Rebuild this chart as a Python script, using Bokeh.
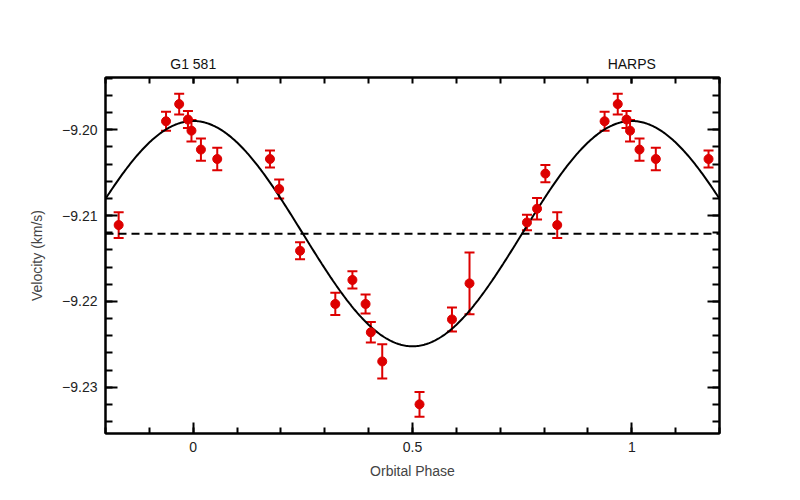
import numpy as np
from bokeh.plotting import figure
from bokeh.models import (ColumnDataSource, Range1d, LinearAxis, FixedTicker,
                          Whisker, TeeHead, CustomJSTickFormatter)
from bokeh.embed import file_html
from bokeh.resources import INLINE

# ---- data ----
phase = [0.0176, 0.0548, 0.175, 0.196, 0.2436, 0.324, 0.363, 0.393, 0.405,
         0.431, 0.516, 0.590, 0.630, 0.761, 0.784, 0.803, 0.830, 0.938,
         0.968, 0.988, 0.996]
velocity = [-9.2023, -9.2034, -9.2034, -9.2069, -9.2141, -9.2203, -9.2175,
            -9.2203, -9.2236, -9.2270, -9.2320, -9.2221, -9.2179, -9.2108,
            -9.2092, -9.2051, -9.2111, -9.1990, -9.1970, -9.1988, -9.2001]
error = [0.0013, 0.0013, 0.0010, 0.0011, 0.0010, 0.0013, 0.0010, 0.0011,
         0.0012, 0.0020, 0.00145, 0.0014, 0.0036, 0.0009, 0.00125, 0.0010,
         0.0015, 0.0011, 0.0012, 0.0010, 0.00125]

# fitted orbit model
v_mean = -9.2121
K_amp = 0.01313

x_major = [0, 0.5, 1]
x_labels = ["0", "0.5", "1"]
y_major = [-9.20, -9.21, -9.22, -9.23]
y_labels = ["\u22129.20", "\u22129.21", "\u22129.22", "\u22129.23"]
top_major = [0, 1]
top_labels = ["G1 581", "HARPS"]

# ---- repeat points across the plotted phase window ----
ph = np.array(phase)
v = np.array(velocity)
e = np.array(error)
lo_win, hi_win = -0.18, 1.18
ph_all = np.concatenate([ph - 1, ph, ph + 1])
v_all = np.concatenate([v, v, v])
e_all = np.concatenate([e, e, e])
keep = (ph_all >= lo_win) & (ph_all <= hi_win)
src = ColumnDataSource(dict(x=ph_all[keep], y=v_all[keep],
                            upper=v_all[keep] + e_all[keep],
                            lower=v_all[keep] - e_all[keep]))

xs = np.linspace(-0.2, 1.2, 500)
curve = ColumnDataSource(dict(x=xs, y=v_mean + K_amp * np.cos(2 * np.pi * xs)))

RED = "#dd0000"
FONT = "Liberation Sans"

p = figure(width=800, height=500, x_range=Range1d(-0.2, 1.2),
           y_range=Range1d(-9.2354, -9.1939), output_backend="svg",
           toolbar_location=None, x_axis_location=None, y_axis_location=None,
           min_border_left=105, min_border_right=81, min_border_top=77,
           min_border_bottom=67)
p.outline_line_color = "black"
p.outline_line_width = 2
p.background_fill_color = "white"
p.border_fill_color = "white"
for g in p.grid:
    g.visible = False
    g.grid_line_color = None

x_minor = [round(-0.2 + 0.1 * i, 2) for i in range(15)]
y_minor = [round(-9.236 + 0.002 * i, 3) for i in range(22)]


def style(ax, major_in, minor_in):
    ax.axis_line_color = "black"
    ax.axis_line_width = 2
    ax.major_tick_line_width = 2
    ax.minor_tick_line_width = 2
    ax.major_tick_in = major_in
    ax.major_tick_out = 0
    ax.minor_tick_in = minor_in
    ax.minor_tick_out = 0
    ax.major_label_text_font = FONT
    ax.major_label_text_font_size = "14px"
    ax.major_label_text_color = "#222222"
    ax.axis_label_text_font = FONT
    ax.axis_label_text_font_size = "14px"
    ax.axis_label_text_color = "#444444"
    ax.axis_label_text_font_style = "normal"


bottom = LinearAxis(ticker=FixedTicker(ticks=x_major, minor_ticks=x_minor),
                    axis_label="Orbital Phase")
bottom.major_label_overrides = dict(zip(x_major, x_labels))
style(bottom, 11, 6)
bottom.major_label_standoff = 8
bottom.axis_label_standoff = 8
p.add_layout(bottom, "below")

top = LinearAxis(ticker=FixedTicker(ticks=top_major, minor_ticks=x_minor))
top.major_label_overrides = dict(zip(top_major, top_labels))
style(top, 6, 6)
top.major_label_text_color = "#111111"
top.major_label_standoff = 6
p.add_layout(top, "above")

left = LinearAxis(ticker=FixedTicker(ticks=y_major, minor_ticks=y_minor),
                  axis_label="Velocity (km/s)")
left.major_label_overrides = dict(zip(y_major, y_labels))
style(left, 12, 7)
left.major_label_standoff = 8
left.axis_label_standoff = 14
p.add_layout(left, "left")

right = LinearAxis(ticker=FixedTicker(ticks=y_major, minor_ticks=y_minor),
                   formatter=CustomJSTickFormatter(code="return ''"))
style(right, 12, 7)
p.add_layout(right, "right")

# model curve and mean line
p.line("x", "y", source=curve, line_color="black", line_width=2)
p.line(x=[-0.2, 1.2], y=[v_mean, v_mean], line_color="black", line_width=2,
       line_dash="8 5")

# data with error bars
w = Whisker(source=src, base="x", upper="upper", lower="lower",
            dimension="height", line_color=RED, line_width=2,
            upper_head=TeeHead(size=10, line_color=RED, line_width=2),
            lower_head=TeeHead(size=10, line_color=RED, line_width=2))
p.add_layout(w)
p.scatter("x", "y", source=src, size=9, fill_color=RED, line_color=RED)

open("out.html", "w").write(file_html(p, INLINE))
